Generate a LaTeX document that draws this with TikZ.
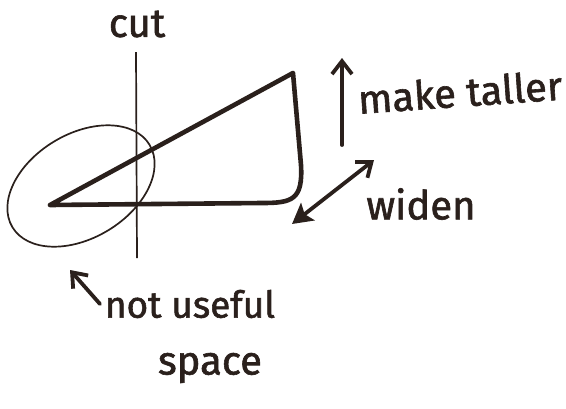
\documentclass[tikz,border=0pt]{standalone}
\usepackage{fontspec}
\setmainfont{Fira Sans}
\newfontfamily\handfont{Fira Sans}[FakeBold=1.5]
\usetikzlibrary{arrows.meta, positioning}
\definecolor{ink}{RGB}{42,32,28}

\begin{document}
\begin{tikzpicture}[
    x=1pt, y=-1pt,
    note/.style={text=ink, font=\handfont\fontsize{40}{46}\selectfont, inner sep=0pt},
    pen/.style={draw=ink, line width=1.7pt},
    marker/.style={draw=ink, line width=4.6pt, line join=round, line cap=round},
    pointer/.style={draw=ink, line width=3.8pt, line cap=round, -{Straight Barb[length=13pt,width=20pt]}},
    twoway/.style={draw=ink, line width=3.8pt, line cap=round, {Straight Barb[length=13pt,width=20pt]}-{Stealth[length=20pt,width=22pt,inset=4pt]}}
]
\useasboundingbox[fill=white] (0,0) rectangle (566,408);

% cut line and the wasted region round it
\coordinate (cuttop) at (136,52);
\coordinate (cutbot) at (137,258);
\node[note] (cut) at (137,24) {cut};
\draw[pen] (cuttop) -- (cutbot);
\draw[pen, rotate around={31:(81,186)}] (81,186) ellipse [x radius=80, y radius=52];

% the triangle
\coordinate (trileft) at (50,205);
\coordinate (tritop) at (293,73);
\draw[marker] (trileft) -- (tritop) -- (301,165)
    .. controls (303,200) and (292,203) .. (262,203) -- (trileft);

% make taller
\coordinate (tallbot) at (342,145);
\coordinate (talltop) at (342,58);
\draw[pointer] (tallbot) -- (talltop);
\node[note, rotate=4] (taller) at (460,92) {make taller};

% widen
\coordinate (widelow) at (292,224);
\coordinate (widehigh) at (374,160);
\draw[twoway] (widehigh) -- (widelow);
\node[note] (widen) at (421,204) {widen};

% not useful space
\coordinate (wastetail) at (100,304);
\coordinate (wastetip) at (70,270);
\draw[pointer] (wastetail) -- (wastetip);
\node[note, font=\handfont\fontsize{37}{44}\selectfont] (notuse) at (190,304) {not useful};
\node[note] (space) at (210,368) {space};
\end{tikzpicture}
\end{document}
